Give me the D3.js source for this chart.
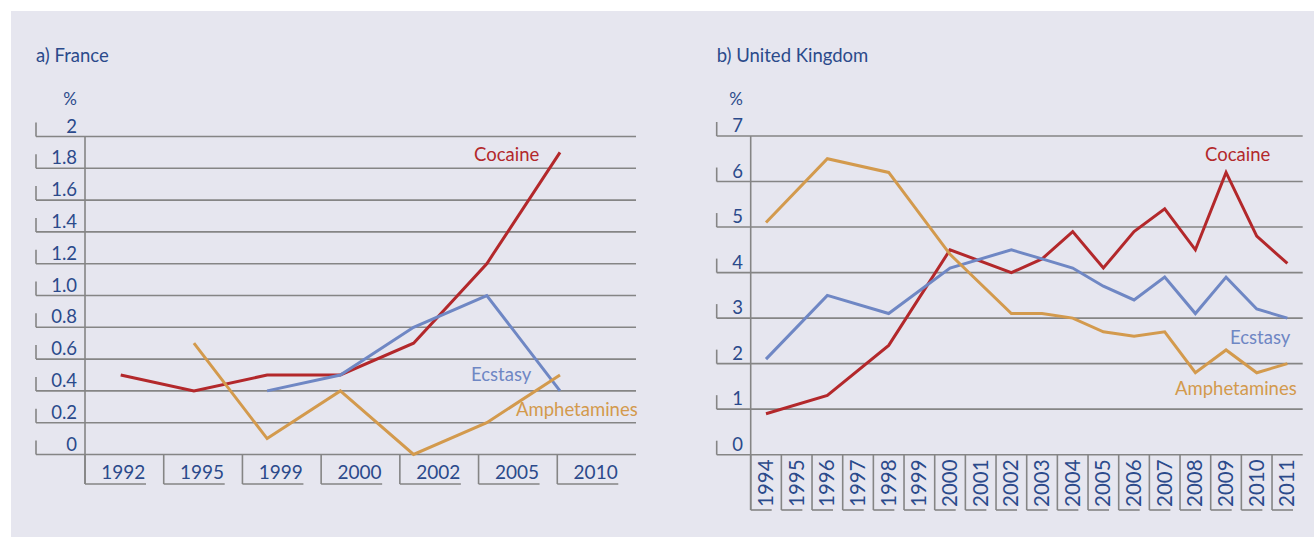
<!DOCTYPE html>
<html>
<head>
<meta charset="utf-8">
<script src="https://cdn.jsdelivr.net/npm/d3@7"></script>
<style>
    body { margin: 0; background: #fff; }
    svg { display: block; font-family: Lato, "Open Sans", sans-serif; }
</style>
</head>
<body>
<svg id="chart" width="1314" height="537"></svg>
<script>
// France
const frYears = ["1992", "1995", "1999", "2000", "2002", "2005", "2010"];
const frCocaine = [0.5, 0.4, 0.5, 0.5, 0.7, 1.2, 1.9];
const frEcstasy = [null, null, 0.4, 0.5, 0.8, 1.0, 0.4];
const frAmphetamines = [null, 0.7, 0.1, 0.4, 0.0, 0.2, 0.5];
const frTicks = [0, 0.2, 0.4, 0.6, 0.8, 1.0, 1.2, 1.4, 1.6, 1.8, 2];
const frTickLabels = ["0", "0.2", "0.4", "0.6", "0.8", "1.0", "1.2", "1.4", "1.6", "1.8", "2"];

// United Kingdom
const ukYears = ["1994", "1995", "1996", "1997", "1998", "1999", "2000", "2001", "2002",
    "2003", "2004", "2005", "2006", "2007", "2008", "2009", "2010", "2011"];
const ukCocaine = [0.9, null, 1.3, null, 2.4, null, 4.5, null, 4.0, 4.3, 4.9, 4.1, 4.9, 5.4, 4.5, 6.2, 4.8, 4.2];
const ukEcstasy = [2.1, null, 3.5, null, 3.1, null, 4.1, null, 4.5, 4.3, 4.1, 3.7, 3.4, 3.9, 3.1, 3.9, 3.2, 3.0];
const ukAmphetamines = [5.1, null, 6.5, null, 6.2, null, 4.4, null, 3.1, 3.1, 3.0, 2.7, 2.6, 2.7, 1.8, 2.3, 1.8, 2.0];
const ukTicks = [0, 1, 2, 3, 4, 5, 6, 7];
const ukTickLabels = ["0", "1", "2", "3", "4", "5", "6", "7"];

const colors = {
    "Cocaine": "#b3282b",
    "Ecstasy": "#6f87c4",
    "Amphetamines": "#d39a4d"
};
const textColor = "#2b4a8b";
const gridColor = "#858585";

const svg = d3.select("#chart");

// lavender panel behind both charts
svg.append("rect")
    .attr("x", 11).attr("y", 11)
    .attr("width", 1303).attr("height", 526)
    .attr("fill", "#e6e6ef");

function drawPanel(cfg) {
    const g = svg.append("g");

    const y = d3.scaleLinear().domain(cfg.yDomain).range([cfg.yBottom, cfg.yTop]);
    const band = d3.scaleBand().domain(cfg.years).range([cfg.axisX, cfg.right]);
    const xp = d3.scalePoint().domain(cfg.years).range(cfg.pointRange);

    // title and unit
    g.append("text")
        .attr("x", cfg.left).attr("y", 62)
        .attr("fill", textColor)
        .style("font-size", "18.5px")
        .text(cfg.title);
    g.append("text")
        .attr("x", cfg.labelRight).attr("y", 105)
        .attr("text-anchor", "end")
        .attr("fill", textColor)
        .style("font-size", "17px")
        .text("%");

    // gridlines with the little bracket at the left end
    cfg.ticks.forEach((t, i) => {
        let yy = y(t);
        g.append("line")
            .attr("x1", cfg.left).attr("x2", cfg.right)
            .attr("y1", yy).attr("y2", yy)
            .attr("stroke", gridColor).attr("stroke-width", 1.6);
        g.append("line")
            .attr("x1", cfg.left).attr("x2", cfg.left)
            .attr("y1", yy - 14).attr("y2", yy)
            .attr("stroke", gridColor).attr("stroke-width", 1.6);
        g.append("text")
            .attr("x", cfg.labelRight).attr("y", yy - 4)
            .attr("text-anchor", "end")
            .attr("fill", textColor)
            .style("font-size", "18.5px")
            .text(cfg.tickLabels[i]);
    });

    // vertical axis
    g.append("line")
        .attr("x1", cfg.axisX).attr("x2", cfg.axisX)
        .attr("y1", y(cfg.yDomain[1])).attr("y2", cfg.boxBottom)
        .attr("stroke", gridColor).attr("stroke-width", 1.6);

    // category boxes under the zero line
    cfg.years.forEach(yr => {
        let x0 = band(yr);
        g.append("line")
            .attr("x1", x0).attr("x2", x0)
            .attr("y1", cfg.yBottom).attr("y2", cfg.boxBottom)
            .attr("stroke", gridColor).attr("stroke-width", 1.6);
        g.append("line")
            .attr("x1", x0).attr("x2", x0 + cfg.boxLine)
            .attr("y1", cfg.boxBottom).attr("y2", cfg.boxBottom)
            .attr("stroke", gridColor).attr("stroke-width", 1.6);

        let cx = x0 + band.bandwidth() / 2;
        if (cfg.rotate) {
            g.append("text")
                .attr("transform", "translate(" + (cx + 7) + "," + (cfg.boxBottom - 3) + ") rotate(-90)")
                .attr("fill", textColor)
                .style("font-size", "20.5px")
                .text(yr);
        } else {
            g.append("text")
                .attr("x", cx - 1).attr("y", cfg.boxBottom - 5)
                .attr("text-anchor", "middle")
                .attr("fill", textColor)
                .style("font-size", "19px")
                .text(yr);
        }
    });

    // series lines
    cfg.series.forEach(s => {
        let pts = cfg.years.map((yr, i) => ({ year: yr, value: s.values[i] }))
            .filter(d => d.value != null);
        g.append("path")
            .datum(pts)
            .attr("fill", "none")
            .attr("stroke", colors[s.name])
            .attr("stroke-width", 3)
            .attr("stroke-linejoin", "miter")
            .attr("d", d3.line()
                .x(d => xp(d.year))
                .y(d => y(d.value))
            );
        g.append("text")
            .attr("x", s.labelX).attr("y", s.labelY)
            .attr("fill", colors[s.name])
            .style("font-size", "18.5px")
            .text(s.name);
    });
}

drawPanel({
    title: "a) France",
    years: frYears,
    ticks: frTicks,
    tickLabels: frTickLabels,
    yDomain: [0, 2],
    yBottom: 454.5, yTop: 136.5,
    left: 36, labelRight: 77, axisX: 85, right: 636,
    pointRange: [120.7, 560],
    boxBottom: 484, boxLine: 61, rotate: false,
    series: [
        { name: "Cocaine", values: frCocaine, labelX: 474, labelY: 161 },
        { name: "Ecstasy", values: frEcstasy, labelX: 471, labelY: 381 },
        { name: "Amphetamines", values: frAmphetamines, labelX: 516, labelY: 416 }
    ]
});

drawPanel({
    title: "b) United Kingdom",
    years: ukYears,
    ticks: ukTicks,
    tickLabels: ukTickLabels,
    yDomain: [0, 7],
    yBottom: 454.7, yTop: 136,
    left: 716.7, labelRight: 743, axisX: 750.7, right: 1302.7,
    pointRange: [766, 1287.4],
    boxBottom: 510, boxLine: 21, rotate: true,
    series: [
        { name: "Cocaine", values: ukCocaine, labelX: 1205, labelY: 161 },
        { name: "Ecstasy", values: ukEcstasy, labelX: 1230, labelY: 344 },
        { name: "Amphetamines", values: ukAmphetamines, labelX: 1175, labelY: 395 }
    ]
});
</script>
</body>
</html>
